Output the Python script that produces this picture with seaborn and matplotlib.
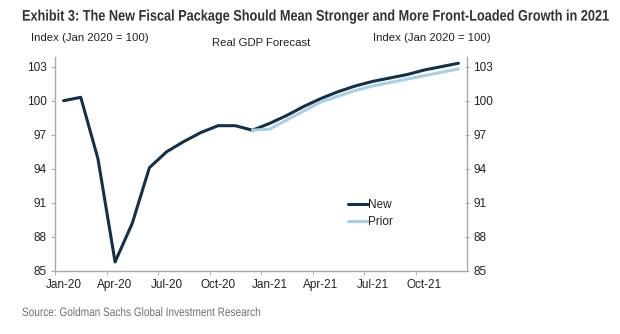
import numpy as np
import pandas as pd
import matplotlib
matplotlib.use("Agg")
import matplotlib.pyplot as plt
from matplotlib.patheffects import AbstractPathEffect
from matplotlib.transforms import Affine2D
from matplotlib.ticker import FixedLocator
import seaborn as sns

months = ["Jan-20", "Feb-20", "Mar-20", "Apr-20", "May-20", "Jun-20",
          "Jul-20", "Aug-20", "Sep-20", "Oct-20", "Nov-20", "Dec-20",
          "Jan-21", "Feb-21", "Mar-21", "Apr-21", "May-21", "Jun-21",
          "Jul-21", "Aug-21", "Sep-21", "Oct-21", "Nov-21", "Dec-21"]

new_path = [100.0, 100.3, 94.9, 85.8, 89.2, 94.1,
            95.5, 96.4, 97.2, 97.8, 97.8, 97.4,
            98.0, 98.7, 99.5, 100.2, 100.8, 101.3,
            101.7, 102.0, 102.3, 102.7, 103.0, 103.3]

prior_path = [np.nan] * 11 + [97.4,
              97.5, 98.3, 99.1, 99.9, 100.4, 100.9,
              101.3, 101.6, 101.9, 102.2, 102.5, 102.8]

yticks = [85, 88, 91, 94, 97, 100, 103]
xtick_labels = ["Jan-20", "Apr-20", "Jul-20", "Oct-20",
                "Jan-21", "Apr-21", "Jul-21", "Oct-21"]

df = pd.DataFrame({
    "pos": list(range(len(months))) * 2,
    "value": new_path + prior_path,
    "series": ["New"] * len(months) + ["Prior"] * len(months),
}).dropna()

sns.set_style("white")
plt.rcParams["font.family"] = ["Liberation Sans", "DejaVu Sans"]

W, H = 620, 334
fig = plt.figure(figsize=(W / 100, H / 100), dpi=100)
ax = fig.add_axes([55 / W, 63 / H, 412 / W, 214 / H])

palette = {"New": "#13304a", "Prior": "#a9cfe6"}
sns.lineplot(data=df, x="pos", y="value", hue="series", palette=palette,
             hue_order=["New", "Prior"], linewidth=2.2, ax=ax, legend=True)

ax.set_xlim(-0.5, len(months) - 0.5)
ax.set_ylim(85, 103.85)
ax.set_xlabel("")
ax.set_ylabel("")

label_pos = [months.index(m) for m in xtick_labels]
ax.set_xticks(label_pos)
ax.set_xticklabels(xtick_labels)
ax.xaxis.set_minor_locator(FixedLocator([p - 0.5 for p in label_pos]))
ax.tick_params(axis="x", which="major", length=0, pad=6,
               labelsize=8.5, labelcolor="#222222")
ax.tick_params(axis="x", which="minor", length=3, color="#aaaaaa",
               direction="out", bottom=True)

ax.set_yticks(yticks)
ax.tick_params(axis="y", which="major", length=3, color="#aaaaaa",
               direction="out", left=True, labelsize=8.5,
               labelcolor="#222222", pad=3)

for side in ["left", "bottom"]:
    ax.spines[side].set_color("#aaaaaa")
    ax.spines[side].set_linewidth(1.0)
ax.spines["top"].set_visible(False)
ax.spines["right"].set_visible(False)

ax2 = ax.twinx()
ax2.set_ylim(ax.get_ylim())
ax2.set_yticks(yticks)
ax2.tick_params(axis="y", length=3, color="#aaaaaa", direction="inout",
                labelsize=8.5, labelcolor="#222222", pad=3)
for side in ["left", "bottom", "top"]:
    ax2.spines[side].set_visible(False)
ax2.spines["right"].set_color("#aaaaaa")
ax2.spines["right"].set_linewidth(1.0)

leg = ax.legend(loc="upper left", bbox_to_anchor=(0.70, 0.36), frameon=False,
                fontsize=8.5, handlelength=1.7, handletextpad=0.0,
                labelspacing=0.45, borderaxespad=0)
for t in leg.get_texts():
    t.set_color("#222222")


class Reshape(AbstractPathEffect):
    """Scale text glyphs about a fixed point (condensed, taller lettering)."""

    def __init__(self, sx, sy, x0, y0):
        super().__init__()
        self.sx, self.sy, self.x0, self.y0 = sx, sy, x0, y0

    def draw_path(self, renderer, gc, tpath, affine, rgbFace=None):
        shape = (Affine2D().translate(-self.x0, -self.y0)
                 .scale(self.sx, self.sy).translate(self.x0, self.y0))
        renderer.draw_path(gc, tpath, affine + shape, rgbFace)


def narrow_text(x_px, y_px, s, width_px, sy=1.0, **kw):
    """Left-aligned text drawn condensed to span width_px pixels."""
    txt = fig.text(x_px / W, 1 - y_px / H, s, ha="left", va="center", **kw)
    natural = txt.get_window_extent(fig.canvas.get_renderer()).width
    txt.set_path_effects([Reshape(width_px / natural, sy, x_px, H - y_px)])
    return txt


narrow_text(22, 17,
            "Exhibit 3: The New Fiscal Package Should Mean Stronger and "
            "More Front-Loaded Growth in 2021",
            586, sy=1.2, fontsize=9.2, weight="bold", color="#333333")

fig.text(31 / W, 1 - 38 / H, "Index (Jan 2020 = 100)", fontsize=8.2,
         color="#222222", va="center", ha="left")
fig.text(261 / W, 1 - 43 / H, "Real GDP Forecast", fontsize=8.2,
         color="#222222", va="center", ha="center")
fig.text(373 / W, 1 - 38 / H, "Index (Jan 2020 = 100)", fontsize=8.2,
         color="#222222", va="center", ha="left")

narrow_text(22, 313, "Source: Goldman Sachs Global Investment Research",
            240, fontsize=8.8, color="#707070")

fig.savefig("out.png", dpi=100, facecolor="white")
